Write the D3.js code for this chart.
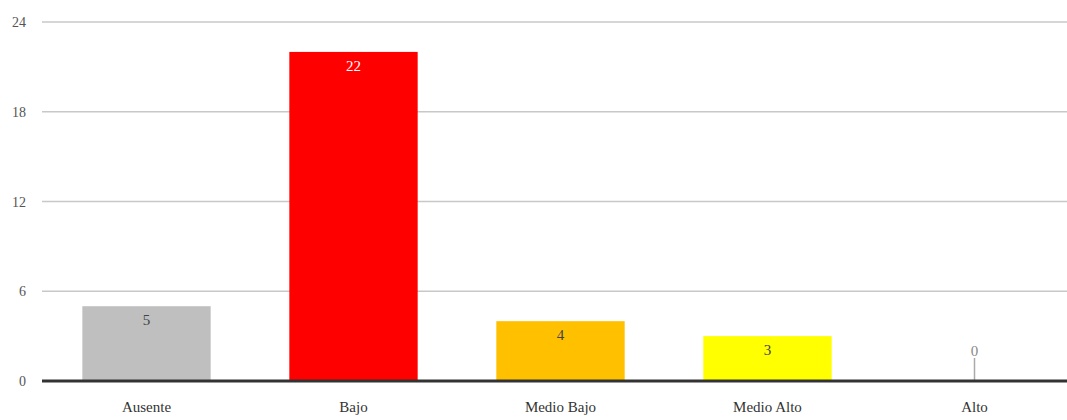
<!DOCTYPE html>
<html><head><meta charset="utf-8">
<script src="https://cdn.jsdelivr.net/npm/d3@7"></script>
<style>body{margin:0;background:#fff}svg{display:block}</style>
</head><body>
<script>
const categories = ["Ausente","Bajo","Medio Bajo","Medio Alto","Alto"];
const values = [5,22,4,3,0];
const colors = ["#bfbfbf","#ff0000","#ffc000","#ffff00","#ffffff"];
const labelColors = ["#444","#fff","#444","#444","#888"];
const yTicks = [0,6,12,18,24];

const W=1067,H=420;
const svg=d3.select("body").append("svg").attr("width",W).attr("height",H);
const x=d3.scaleBand().domain(categories).range([43,1078]).paddingInner(0.38).paddingOuter(0.19);
const y=d3.scaleLinear().domain([0,24]).range([381,22]);
const font="'Liberation Serif','Times New Roman',serif";

svg.append("g").selectAll("line").data(yTicks.filter(d=>d>0)).join("line")
  .attr("x1",42).attr("x2",W).attr("y1",d=>y(d)).attr("y2",d=>y(d))
  .attr("stroke","#c8c8c8").attr("stroke-width",1.5);
svg.append("g").selectAll("text").data(yTicks).join("text")
  .attr("x",26).attr("y",d=>y(d)+5).attr("text-anchor","end")
  .attr("font-family",font).attr("font-size",14).attr("fill","#555").text(d=>d);

svg.append("g").selectAll("rect").data(values).join("rect")
  .attr("x",(d,i)=>x(categories[i])).attr("width",x.bandwidth())
  .attr("y",d=>y(d)).attr("height",d=>y(0)-y(d)).attr("fill",(d,i)=>colors[i]);

// leader line for zero value
values.forEach((v,i)=>{
  if(v===0){
    const cx=x(categories[i])+x.bandwidth()/2;
    svg.append("line").attr("x1",cx).attr("x2",cx).attr("y1",y(0)-23).attr("y2",y(0))
      .attr("stroke","#aaa").attr("stroke-width",1.5);
  }
});

svg.append("g").selectAll("text").data(values).join("text")
  .attr("x",(d,i)=>x(categories[i])+x.bandwidth()/2)
  .attr("y",d=>d>0?y(d)+19:y(0)-25)
  .attr("text-anchor","middle").attr("font-family",font).attr("font-size",15)
  .attr("fill",(d,i)=>labelColors[i]).text(d=>d);

svg.append("line").attr("x1",42).attr("x2",W).attr("y1",y(0)).attr("y2",y(0))
  .attr("stroke","#333").attr("stroke-width",3);

svg.append("g").selectAll("text").data(categories).join("text")
  .attr("x",d=>x(d)+x.bandwidth()/2).attr("y",412).attr("text-anchor","middle")
  .attr("font-family",font).attr("font-size",15).attr("fill","#333").text(d=>d);
</script>
</body></html>
